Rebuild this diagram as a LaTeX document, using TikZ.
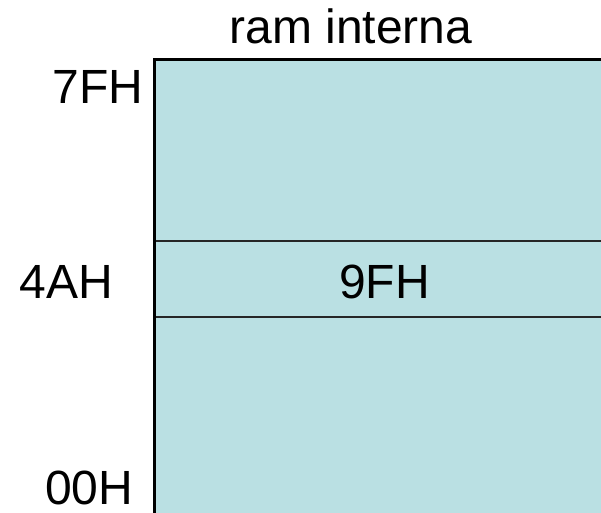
\documentclass[tikz,border=0pt]{standalone}
\usepackage{fontspec}
\setmainfont{Liberation Sans}
\definecolor{ramfill}{RGB}{186,224,227}
\begin{document}
\begin{tikzpicture}[x=1pt,y=-1pt,
  lbl/.style={inner sep=0pt,font=\fontsize{48}{58}\selectfont},
  border/.style={line width=3pt,black},
  divider/.style={line width=1.8pt,black!85}]
\useasboundingbox (0,0) rectangle (601,512);
\clip (0,0) rectangle (601,512);
% memory block
\coordinate (tl) at (154,59);
\coordinate (br) at (605,516);
\fill[ramfill] (tl) rectangle (br);
\draw[divider] (154,241) -- (605,241);
\draw[divider] (154,317) -- (605,317);
\draw[border] (154,516) -- (tl) -- (605,59);
% labels
\node[lbl,anchor=base] (title) at (351,43) {ram interna};
\node[lbl,anchor=base east] (top) at (143.5,103) {7FH};
\node[lbl,anchor=base east] (mid) at (113.5,298) {4AH};
\node[lbl,anchor=base] (val) at (384.5,298) {9FH};
\node[lbl,anchor=base east] (bot) at (133.5,504) {00H};
\end{tikzpicture}
\end{document}
